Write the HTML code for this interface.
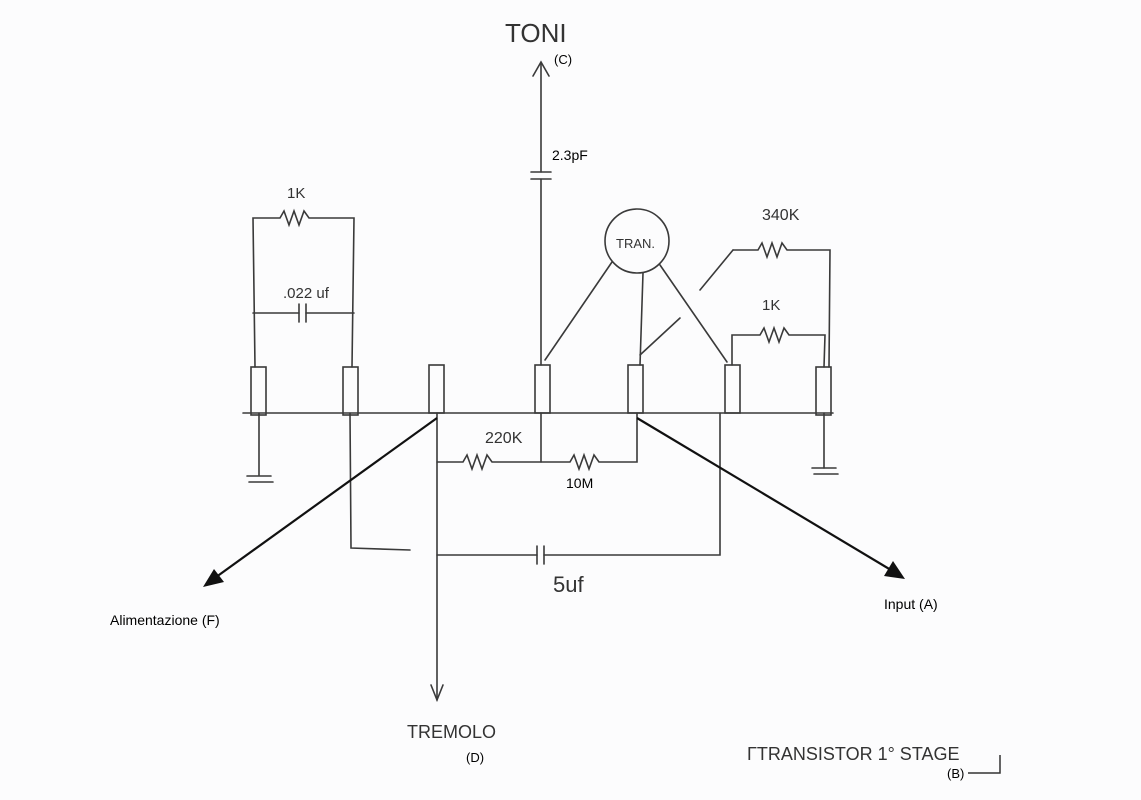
<!DOCTYPE html>
<html><head><meta charset="utf-8"><style>
html,body{margin:0;padding:0;background:#fcfcfd;}
svg{display:block}
text{font-family:"Liberation Sans",sans-serif;}
.h{font-family:"Liberation Sans Narrow","Liberation Sans",sans-serif;fill:#333;}
</style></head><body>
<svg width="1141" height="800" viewBox="0 0 1141 800" xmlns="http://www.w3.org/2000/svg">
<rect width="1141" height="800" fill="#fcfcfd"/>
<g stroke="#3a3a3a" stroke-width="1.6" fill="none" stroke-linecap="round">
<!-- main bus -->
<line x1="243" y1="413" x2="833" y2="413"/>
<!-- components -->
<rect x="251" y="367" width="15" height="48"/>
<rect x="343" y="367" width="15" height="48"/>
<rect x="429" y="365" width="15" height="48"/>
<rect x="535" y="365" width="15" height="48"/>
<rect x="628" y="365" width="15" height="48"/>
<rect x="725" y="365" width="15" height="48"/>
<rect x="816" y="367" width="15" height="48"/>
<!-- left network -->
<polyline points="255,367 253,218 280,218 284,211 289,225 294,211 299,225 304,211 309,218 354,218 352,367"/>
<polyline points="253,313 299,313"/><line x1="299" y1="304" x2="299" y2="322"/><line x1="306" y1="304" x2="306" y2="322"/><polyline points="306,313 354,313"/>
<!-- grounds -->
<line x1="259" y1="413" x2="259" y2="475"/><line x1="247" y1="476" x2="271" y2="476"/><line x1="249" y1="482" x2="273" y2="482"/>
<line x1="824" y1="413" x2="824" y2="468"/><line x1="812" y1="468" x2="836" y2="468"/><line x1="814" y1="474" x2="838" y2="474"/>
<!-- toni -->
<line x1="541" y1="63" x2="541" y2="172"/><line x1="531" y1="172" x2="551" y2="172"/><line x1="531" y1="179" x2="551" y2="179"/><line x1="541" y1="179" x2="541" y2="365"/>
<polyline points="533,76 541,62 549,76"/>
<!-- TRAN -->
<circle cx="637" cy="241" r="32"/>
<line x1="612" y1="262" x2="545" y2="360"/>
<line x1="643" y1="273" x2="640" y2="365"/><line x1="680" y1="318" x2="640" y2="355"/>
<line x1="660" y1="265" x2="727" y2="362"/>
<line x1="700" y1="290" x2="733" y2="250"/>
<!-- 340K -->
<polyline points="733,250 758,250 762,243 767,257 772,243 777,257 782,243 787,250 830,250 829,367"/>
<!-- 1K right -->
<polyline points="732,365 732,335 760,335 764,328 769,342 774,328 779,342 784,328 789,335 825,335 824,367"/>
<!-- 220K 10M -->
<polyline points="437,462 463,462 467,455 472,469 477,455 482,469 487,455 492,462 570,462 574,455 579,469 584,455 589,469 594,455 599,462 637,462 637,413"/>
<line x1="541" y1="413" x2="541" y2="462"/>
<!-- 5uf loop -->
<polyline points="350,413 351,548 410,550"/>
<polyline points="437,555 537,555"/><line x1="537" y1="546" x2="537" y2="564"/><line x1="544" y1="546" x2="544" y2="564"/><polyline points="544,555 720,555 720,413"/>
<!-- tremolo -->
<line x1="437" y1="413" x2="437" y2="700"/><polyline points="431,685 437,700 443,685"/>
</g>
<g stroke="#111" stroke-width="2.2">
<line x1="437" y1="418" x2="212" y2="580"/><line x1="637" y1="418" x2="896" y2="573"/>
</g>
<polygon points="203,587 214,569 224,582" fill="#111"/>
<polygon points="905,579 884,576 893,561" fill="#111"/>
<!-- texts -->
<text x="505" y="42" class="h" font-size="26">TONI</text>
<text x="554" y="64" font-size="13">(C)</text>
<text x="552" y="160" font-size="14">2.3pF</text>
<text x="287" y="198" class="h" font-size="15">1K</text>
<text x="283" y="298" class="h" font-size="15">.022 uf</text>
<text x="616" y="248" class="h" font-size="13">TRAN.</text>
<text x="762" y="220" class="h" font-size="16">340K</text>
<text x="762" y="310" class="h" font-size="15">1K</text>
<text x="485" y="443" class="h" font-size="16">220K</text>
<text x="566" y="488" font-size="14">10M</text>
<text x="553" y="592" class="h" font-size="22">5uf</text>
<text x="110" y="625" font-size="14">Alimentazione (F)</text>
<text x="884" y="609" font-size="14">Input (A)</text>
<text x="407" y="738" class="h" font-size="18">TREMOLO</text>
<text x="466" y="762" font-size="13">(D)</text>
<text x="747" y="760" class="h" font-size="18">ΓTRANSISTOR  1° STAGE</text>
<text x="947" y="778" font-size="13">(B)</text>
<polyline points="968,773 1000,773 1000,755" stroke="#333" stroke-width="1.5" fill="none"/>
</svg>
</body></html>
